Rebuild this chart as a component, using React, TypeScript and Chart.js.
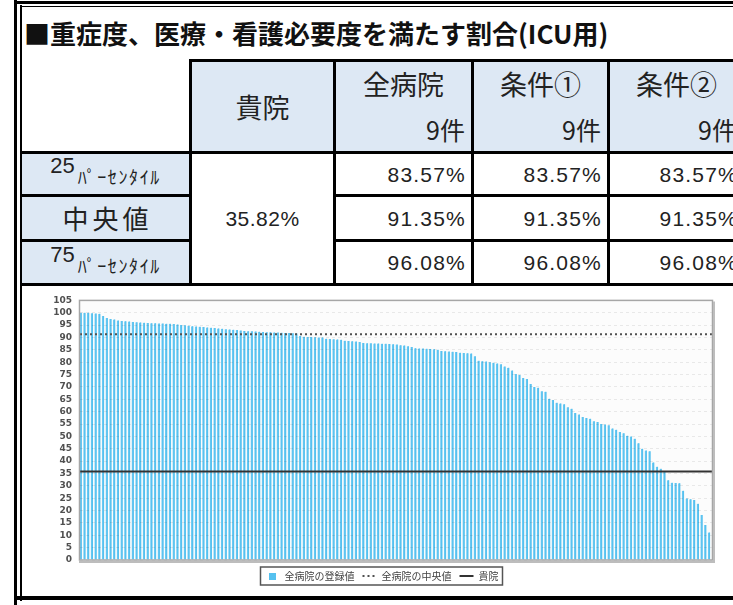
import React, { useEffect, useRef } from 'react';
import { Chart, registerables } from 'chart.js';

Chart.register(...registerables);

// ---------- data ----------
const TITLE = '■重症度、医療・看護必要度を満たす割合(ICU用)';
const OWN_HEADER = '貴院';
const COLUMN_HEADERS = ['全病院', '条件①', '条件②'];
const COLUMN_COUNTS = ['9件', '9件', '9件'];
const ROW_NUMBERS = ['25', '', '75'];
const ROW_SUFFIX = 'ﾊﾟｰｾﾝﾀｲﾙ';
const MEDIAN_LABEL = '中央値';
const OWN_VALUE_TEXT = '35.82%';
const P25_VALUES = ['83.57%', '83.57%', '83.57%'];
const MEDIAN_VALUES = ['91.35%', '91.35%', '91.35%'];
const P75_VALUES = ['96.08%', '96.08%', '96.08%'];

const REGISTERED_VALUES = [
  100, 100, 100, 99.8, 99.7, 99.6,
  98.7,
  97.9, 97.5, 97.3,
  96.9, 96.7, 96.6, 96.5,
  96.3, 96.2, 96.1, 96.0,
  95.9, 95.8, 95.8, 95.7, 95.7, 95.6, 95.6, 95.5,
  95.3, 95.1, 94.9, 94.7,
  94.5, 94.4, 94.3, 94.2,
  94.0, 93.9, 93.8, 93.6, 93.5,
  93.3, 93.2, 93.1, 93.0, 92.8,
  92.6, 92.5, 92.5, 92.4, 92.3,
  92.2, 92.1, 92.1, 92.0, 92.0, 91.9, 91.8, 91.8, 91.7, 91.6,
  90.6, 90.3, 90.2, 90.2, 90.1, 90.0, 90.0,
  89.5, 89.4, 89.3, 89.2, 89.1,
  88.7, 88.6, 88.5, 88.4, 88.2,
  87.8, 87.7, 87.7, 87.6, 87.6, 87.5, 87.5, 87.4, 87.3, 87.2,
  86.9, 86.8, 86.5, 86.2,
  85.6, 85.5, 85.5, 85.4, 85.3, 85.2, 85.0,
  84.5, 84.4, 84.3, 84.2, 84.1,
  83.8, 83.7, 83.6, 83.5,
  82.4, 80.6, 80.4, 80.3, 80.0, 79.8, 79.5, 79.2, 78.3, 77.8,
  76.6, 75.2, 74.8, 73.6, 73.2, 71.2, 70.0, 69.7, 68.3, 68.1,
  65.2, 64.7, 63.6, 63.3, 63.0, 61.8, 61.2, 59.5, 58.9, 57.8,
  57.4, 57.1, 56.1, 55.8, 55.0, 54.8, 54.5, 53.2, 52.7, 51.8,
  51.3, 50.3, 50.0, 49.0, 47.2, 45.0, 44.3, 44.0, 39.4, 37.7,
  36.9, 36.0, 32.3, 31.2, 31.1, 31.0, 28.0, 24.9, 24.6, 24.3,
  22.8, 18.2, 14.2, 11.1,
];
const HOSPITAL_LABELS = REGISTERED_VALUES.map((_, i) => String(i + 1));
const ALL_MEDIAN = 91.35;
const OWN_RATE = 35.82;
const Y_MIN = 0;
const Y_MAX = 105;
const Y_STEP = 5;
const LEGEND_LABELS = ['全病院の登録値', '全病院の中央値', '貴院'];

// ---------- styles ----------
const JP = '"Noto Sans CJK JP", "Noto Sans", sans-serif';
const NUM = '"Liberation Sans", Arial, sans-serif';
const LIGHT = '#dde8f4';
const INK = '#222';
const BAR_COLOR = 'rgb(86,193,239)';
const BAR_EDGE = 'rgb(112,203,243)';

type BoxProps = {
  x: number; y: number; w: number; h: number;
  bg?: string; justify?: string; style?: React.CSSProperties; children?: React.ReactNode;
};
function Box({ x, y, w, h, bg, justify = 'center', style, children }: BoxProps) {
  return (
    <div
      style={{
        position: 'absolute', left: x, top: y, width: w, height: h,
        background: bg, display: 'flex', alignItems: 'center', justifyContent: justify,
        color: INK, whiteSpace: 'nowrap', boxSizing: 'border-box', ...style,
      }}
    >
      {children}
    </div>
  );
}
function Line({ x, y, w, h, c = '#000' }: { x: number; y: number; w: number; h: number; c?: string }) {
  return <div style={{ position: 'absolute', left: x, top: y, width: w, height: h, background: c }} />;
}

const COLS = [334, 472, 608, 744];

function ChartCanvas() {
  const ref = useRef<HTMLCanvasElement | null>(null);
  useEffect(() => {
    if (!ref.current) return;
    const sq = document.createElement('canvas');
    sq.width = 7;
    sq.height = 7;
    const sctx = sq.getContext('2d')!;
    sctx.fillStyle = BAR_COLOR;
    sctx.fillRect(0, 0, 7, 7);

    const framePlugin = {
      id: 'frame',
      afterLayout(chart: any) {
        if (chart.legend) {
          chart.legend.left += 14;
          chart.legend.right += 14;
          chart.legend.top += 3;
          chart.legend.bottom += 3;
        }
      },
      beforeDraw(chart: any) {
        const a = chart.chartArea;
        const ctx = chart.ctx;
        ctx.save();
        ctx.fillStyle = '#fcfcfc';
        ctx.fillRect(a.left, a.top, a.right - a.left, a.bottom - a.top);
        ctx.restore();
      },
      afterDraw(chart: any) {
        const a = chart.chartArea;
        const ctx = chart.ctx;
        ctx.save();
        ctx.strokeStyle = '#a6a6a6';
        ctx.lineWidth = 1.5;
        ctx.strokeRect(a.left - 0.5, a.top, a.right - a.left + 1, a.bottom - a.top);
        ctx.strokeStyle = '#bdbdbd';
        ctx.lineWidth = 2;
        ctx.beginPath();
        ctx.moveTo(a.left - 1, a.bottom + 2);
        ctx.lineTo(a.right + 2, a.bottom + 2);
        ctx.lineTo(a.right + 2, a.top + 1);
        ctx.stroke();
        const boxes = chart.legend?.legendHitBoxes || [];
        if (boxes.length) {
          let l = Infinity, r = -Infinity, t = Infinity, b = -Infinity;
          boxes.forEach((h: any) => {
            l = Math.min(l, h.left); r = Math.max(r, h.left + h.width);
            t = Math.min(t, h.top); b = Math.max(b, h.top + h.height);
          });
          ctx.strokeStyle = '#555';
          ctx.lineWidth = 1.5;
          ctx.strokeRect(l - 5, t - 4, r - l + 9, b - t + 8);
        }
        ctx.restore();
      },
    };

    const chart = new Chart(ref.current, {
      type: 'bar',
      data: {
        labels: HOSPITAL_LABELS,
        datasets: [
          {
            type: 'bar',
            label: LEGEND_LABELS[0],
            data: REGISTERED_VALUES,
            backgroundColor: BAR_COLOR,
            borderColor: BAR_EDGE,
            borderWidth: { left: 1, right: 0, top: 0, bottom: 0 },
            inflateAmount: 0.5,
            barPercentage: 1,
            categoryPercentage: 1,
            pointStyle: sq,
            order: 2,
          } as any,
          {
            type: 'line',
            label: LEGEND_LABELS[1],
            data: [{ x: 0, y: ALL_MEDIAN }, { x: 1, y: ALL_MEDIAN }],
            xAxisID: 'xLine',
            borderColor: '#505050',
            backgroundColor: '#505050',
            borderWidth: 2,
            borderDash: [2, 3],
            pointRadius: 0,
            pointStyle: 'line',
            order: 1,
          } as any,
          {
            type: 'line',
            label: LEGEND_LABELS[2],
            data: [{ x: 0, y: OWN_RATE }, { x: 1, y: OWN_RATE }],
            xAxisID: 'xLine',
            borderColor: '#333',
            backgroundColor: '#333',
            borderWidth: 2,
            pointRadius: 0,
            pointStyle: 'line',
            order: 0,
          } as any,
        ],
      },
      options: {
        animation: false,
        responsive: false,
        maintainAspectRatio: false,
        layout: { padding: { top: 13, right: 84, left: 0, bottom: 7 } },
        scales: {
          x: { display: false, grid: { display: false } },
          xLine: { type: 'linear', display: false, min: 0, max: 1, offset: false },
          y: {
            min: Y_MIN,
            max: Y_MAX,
            ticks: {
              stepSize: Y_STEP,
              padding: 8,
              autoSkip: false,
              color: '#505050',
              font: { family: '"DejaVu Sans", sans-serif', size: 9, weight: 'bold' },
            },
            grid: { color: 'rgba(0,0,0,0.08)', drawTicks: false, z: 1 },
            border: { display: false, dash: [3, 3] },
            afterFit: (s: any) => { s.width = 56; },
          },
        } as any,
        plugins: {
          legend: {
            position: 'bottom',
            labels: {
              usePointStyle: true,
              pointStyleWidth: 14,
              boxHeight: 7,
              padding: 8,
              color: '#444',
              font: { family: JP, size: 10 },
              sort: (a: any, b: any) => a.datasetIndex - b.datasetIndex,
              generateLabels: (chart: any) => {
                const items = (Chart.defaults.plugins.legend.labels as any).generateLabels(chart);
                return items.map((it: any) => {
                  const ds = chart.data.datasets[it.datasetIndex];
                  if (ds.type === 'line') {
                    it.lineDash = ds.borderDash || [];
                    it.lineWidth = ds.borderWidth;
                    it.strokeStyle = ds.borderColor;
                  }
                  return it;
                });
              },
            },
          },
          tooltip: { enabled: false },
        },
      } as any,
      plugins: [framePlugin],
    });
    return () => chart.destroy();
  }, []);
  return (
    <canvas
      ref={ref}
      width={772}
      height={308}
      style={{ position: 'absolute', left: 24, top: 287, width: 772, height: 308 }}
    />
  );
}

export default function App() {
  const valueRows = [P25_VALUES, MEDIAN_VALUES, P75_VALUES];
  const rowTops = [153, 196, 241];
  const rowH = [42, 44, 43];
  return (
    <div style={{ position: 'relative', width: 733, height: 605, overflow: 'hidden', background: '#fff', fontFamily: JP }}>
      <style>{'html,body{margin:0;padding:0;overflow:hidden;background:#fff}'}</style>

      {/* title */}
      <div style={{ position: 'absolute', left: 24, top: 16, fontFamily: JP, fontWeight: 'bold', fontSize: 26, lineHeight: '34px', color: '#111', whiteSpace: 'nowrap' }}>
        {TITLE}
      </div>

      {/* header cells */}
      <Box x={191} y={61} w={143} h={91} bg={LIGHT} style={{ fontSize: 27, fontFamily: JP, lineHeight: 1 }}>{OWN_HEADER}</Box>
      {COLUMN_HEADERS.map((name, i) => (
        <React.Fragment key={name}>
          <Box x={COLS[i] + 1} y={61} w={COLS[i + 1] - COLS[i] - 1} h={91} bg={LIGHT} />
          <Box x={COLS[i] + 1} y={65} w={COLS[i + 1] - COLS[i] - 1} h={36} style={{ fontSize: 27, fontFamily: JP, lineHeight: 1 }}>{name}</Box>
          <Box x={COLS[i] + 1} y={112} w={COLS[i + 1] - COLS[i] - 8} h={34} justify="flex-end" style={{ fontSize: 25, fontFamily: JP, lineHeight: 1 }}>{COLUMN_COUNTS[i]}</Box>
        </React.Fragment>
      ))}

      {/* row label cells */}
      {[0, 1, 2].map((r) => (
        <Box key={'lab' + r} x={22} y={rowTops[r]} w={167} h={rowH[r]} bg={LIGHT}>
          {r === 1 ? (
            <span style={{ fontSize: 26, letterSpacing: 4, fontFamily: JP, lineHeight: 1, marginLeft: 4 }}>{MEDIAN_LABEL}</span>
          ) : (
            <span style={{ display: 'inline-flex', alignItems: 'flex-start' }}>
              <span style={{ fontSize: 22, fontFamily: NUM, lineHeight: 1, position: 'relative', top: -8 }}>{ROW_NUMBERS[r]}</span>
              <span style={{ fontSize: 18, fontFamily: JP, lineHeight: 1, letterSpacing: 1.6, position: 'relative', top: 4, marginLeft: 3 }}>{ROW_SUFFIX}</span>
            </span>
          )}
        </Box>
      ))}

      {/* own value spanning rows */}
      <Box x={191} y={153} w={143} h={131} bg="#fff" style={{ fontSize: 21, fontFamily: NUM, lineHeight: 1, letterSpacing: 0.5 }}>{OWN_VALUE_TEXT}</Box>

      {/* value cells */}
      {valueRows.map((vals, r) =>
        vals.map((v, i) => (
          <Box key={'v' + r + i} x={COLS[i] + 1} y={rowTops[r]} w={COLS[i + 1] - COLS[i] - 7} h={rowH[r]} justify="flex-end" style={{ fontSize: 21, fontFamily: NUM, lineHeight: 1, letterSpacing: 1.2 }}>{v}</Box>
        ))
      )}

      {/* table lines */}
      <Line x={189} y={59} w={560} h={3} />
      <Line x={20} y={151} w={720} h={3} />
      <Line x={20} y={194} w={170} h={3} />
      <Line x={333} y={194} w={420} h={3} />
      <Line x={20} y={239} w={170} h={3} />
      <Line x={333} y={239} w={420} h={3} />
      <Line x={20} y={283} w={720} h={3} />
      <Line x={189} y={59} w={3} h={226} />
      {COLS.slice(0, 3).map((x) => <Line key={'c' + x} x={x - 1} y={59} w={3} h={226} />)}

      {/* chart */}
      <ChartCanvas />

      {/* outer frame */}
      <Line x={14} y={0} w={3} h={605} />
      <Line x={20} y={5} w={2} h={596} />
      <Line x={14} y={1} w={730} h={3} />
      <Line x={20} y={6} w={720} h={1} />
      <Line x={14} y={596} w={730} h={4} />
    </div>
  );
}
